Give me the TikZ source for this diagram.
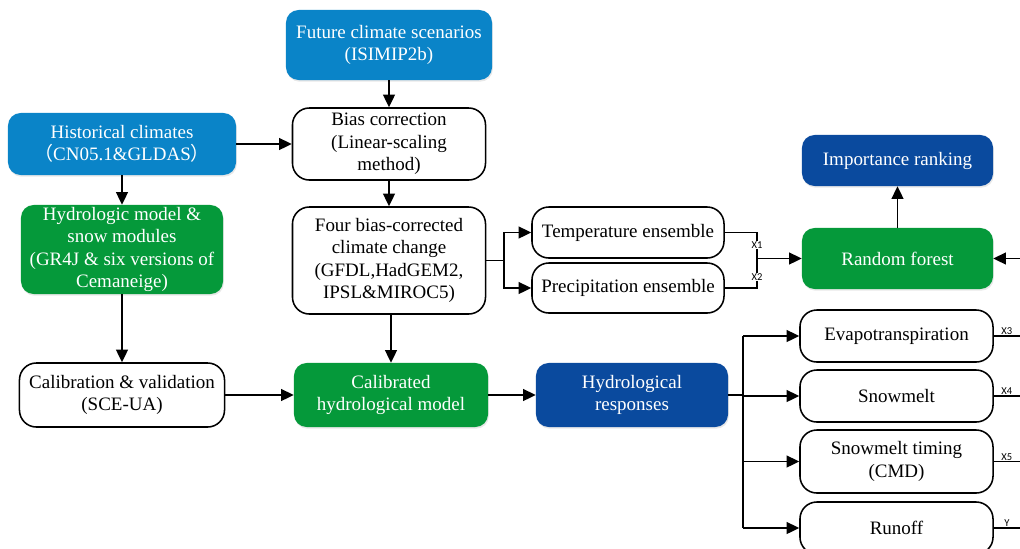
\documentclass[tikz,border=0pt]{standalone}
\usepackage{fontspec}
\setmainfont{Liberation Serif}
\newfontfamily\cjk{Noto Sans CJK SC}
\newfontfamily\lblfont{Carlito}
\usepackage{tikz}
\usetikzlibrary{arrows.meta,shadows}

\definecolor{skyblue}{RGB}{10,132,200}
\definecolor{leafgreen}{RGB}{5,153,58}
\definecolor{navyblue}{RGB}{10,74,158}

\begin{document}
\begin{tikzpicture}[x=0.025cm,y=-0.025cm]
    \tikzset{
    box/.style={rounded corners=9pt,align=center,font=\fontsize{13.5}{16}\selectfont,inner sep=1pt},
    cbox/.style={box,text=white,drop shadow={shadow xshift=0.6pt,shadow yshift=-1.2pt,opacity=0.18}},
    inbox/.style={cbox,fill=skyblue},
    grbox/.style={cbox,fill=leafgreen},
    dkbox/.style={cbox,fill=navyblue},
    wbox/.style={box,draw=black,line width=1.1pt,rounded corners=12pt,fill=white},
    arr/.style={-{Triangle[length=9pt,width=8.5pt]},line width=1.1pt},
    ln/.style={line width=1.1pt},
    xlbl/.style={font=\lblfont\fontsize{7.5}{8}\selectfont,inner sep=0.4pt},
    }
    \clip (0,0) rectangle (1020,548);

    \node[inbox,minimum width=5.15cm,minimum height=1.75cm] (fut) at (389,45) {Future climate scenarios\\(ISIMIP2b)};
    \node[inbox,minimum width=5.7cm,minimum height=1.55cm] (hist) at (122,144) {Historical climates\\{\cjk （}CN05.1\&GLDAS{\cjk ）}};
    \node[wbox,minimum width=4.825cm,minimum height=1.8cm] (bias) at (389,144) {Bias correction\\(Linear-scaling\\method)};
    \node[grbox,minimum width=5.05cm,minimum height=2.225cm] (hydro) at (122,249.5) {Hydrologic model \&\\snow modules\\(GR4J \& six versions of\\Cemaneige)};
    \node[wbox,minimum width=4.825cm,minimum height=2.675cm] (four) at (389,260.5) {Four bias-corrected\\climate change\\(GFDL,HadGEM2,\\IPSL\&MIROC5)};
    \node[wbox,minimum width=4.8cm,minimum height=1.275cm] (temp) at (628,232.5) {Temperature ensemble};
    \node[wbox,minimum width=4.8cm,minimum height=1.25cm] (prec) at (628,288) {Precipitation ensemble};
    \node[grbox,minimum width=4.775cm,minimum height=1.525cm] (rf) at (897.5,258.5) {Random forest};
    \node[dkbox,minimum width=4.775cm,minimum height=1.275cm] (rank) at (897.5,160.5) {Importance ranking};
    \node[wbox,minimum width=5.125cm,minimum height=1.6cm] (calib) at (122,395) {Calibration \& validation\\(SCE-UA)};
    \node[grbox,minimum width=4.85cm,minimum height=1.6cm] (calmod) at (391,395) {Calibrated\\hydrological model};
    \node[dkbox,minimum width=4.8cm,minimum height=1.6cm] (resp) at (632,395) {Hydrological\\responses};
    \node[wbox,minimum width=4.825cm,minimum height=1.3cm] (evap) at (896.5,336) {Evapotranspiration};
    \node[wbox,minimum width=4.825cm,minimum height=1.3cm] (snow) at (896.5,396) {Snowmelt};
    \node[wbox,minimum width=4.825cm,minimum height=1.575cm] (timing) at (896.5,461.5) {Snowmelt timing\\(CMD)};
    \node[wbox,minimum width=4.825cm,minimum height=1.3cm] (runoff) at (896.5,528) {Runoff};

    \coordinate (fb) at (504,260.5);
    \coordinate (xj) at (757,258.5);
    \coordinate (br) at (743,395);
    \coordinate (rin) at (1020,258.5);

    % main chain
    \draw[arr] (fut) -- (bias);
    \draw[arr] (hist) -- (bias);
    \draw[arr] (hist) -- (hydro);
    \draw[arr] (bias) -- (four);
    \draw[arr] (hydro) -- (calib);
    \draw[arr] (four.south -| calmod.north) -- (calmod);
    \draw[arr] (calib) -- (calmod);
    \draw[arr] (calmod) -- (resp);

    % ensembles
    \draw[ln] (four.east |- fb) -- (fb);
    \draw[arr] (fb) |- (temp.west);
    \draw[arr] (fb) |- (prec.west);
    \draw[ln] (temp.east) -| (xj) |- (prec.east);
    \node[xlbl,fill=white] (x1) at (757,245) {X1};
    \node[xlbl,fill=white] (x2) at (757,277) {X2};
    \draw[arr] (xj) -- (rf);
    \draw[arr] (rf) -- (rank);
    \draw[arr] (rin) -- (rf);

    % responses
    \draw[ln] (resp) -- (br);
    \draw[ln] (br |- evap.west) -- (br |- runoff.west);
    \foreach \b in {evap,snow,timing,runoff}
        \draw[arr] (br |- \b.west) -- (\b.west);
    \foreach \b/\t in {evap/X3,snow/X4,timing/X5,runoff/Y}
        \draw[ln] (\b.east) -- (\b.east -| rin) node[xlbl,pos=0.5,above] {\t};

\end{tikzpicture}
\end{document}
